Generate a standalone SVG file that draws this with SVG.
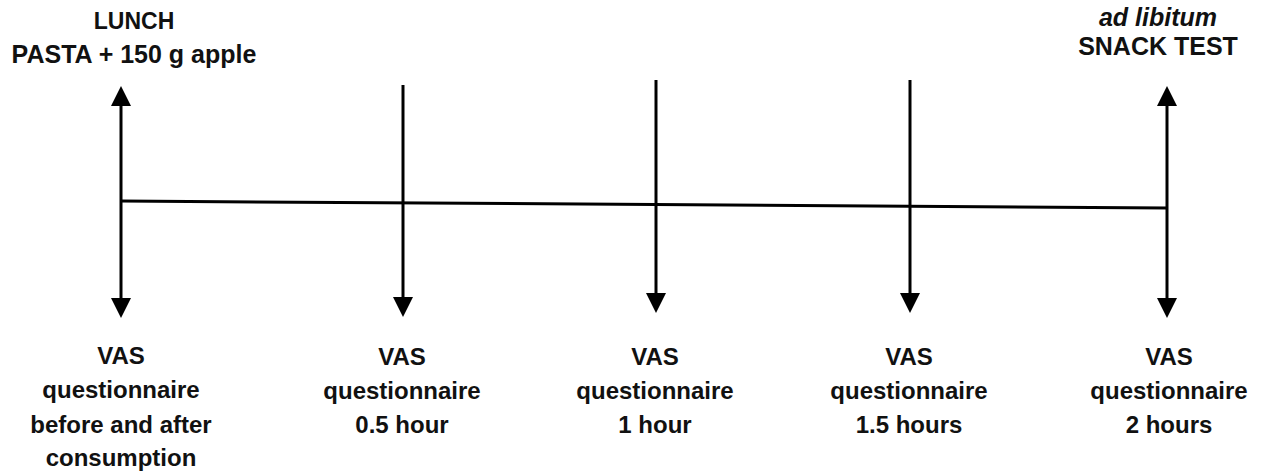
<svg xmlns="http://www.w3.org/2000/svg" width="1264" height="476" viewBox="0 0 1264 476">
<style>
text{font-family:"Liberation Sans",Arial,sans-serif;font-weight:bold;fill:#111;text-anchor:middle}
.lbl{font-size:24px}
.line{stroke:#000;stroke-width:3;fill:none}
</style>
<defs>
<marker id="ah" viewBox="0 0 20 20" markerWidth="20" markerHeight="20" refX="0" refY="10" orient="auto-start-reverse" markerUnits="userSpaceOnUse">
<path d="M0,0 L20,10 L0,20 z" fill="#000"/>
</marker>
</defs>
<g id="connectors">
<line class="line" x1="121" y1="201" x2="1167" y2="208"/>
<line class="line" x1="121" y1="106" x2="121" y2="298" marker-start="url(#ah)" marker-end="url(#ah)"/>
<line class="line" x1="403" y1="85" x2="403" y2="297" marker-end="url(#ah)"/>
<line class="line" x1="656" y1="80" x2="656" y2="293" marker-end="url(#ah)"/>
<line class="line" x1="910" y1="80" x2="910" y2="293" marker-end="url(#ah)"/>
<line class="line" x1="1167" y1="106" x2="1167" y2="298" marker-start="url(#ah)" marker-end="url(#ah)"/>
</g>
<g id="lunch">
<text x="134" y="29" style="font-size:23px">LUNCH</text>
<text x="134" y="63" style="font-size:25px">PASTA + 150 g apple</text>
</g>
<g id="snack">
<text x="1158" y="26" style="font-size:25px;font-style:italic">ad libitum</text>
<text x="1158" y="55" style="font-size:25px">SNACK TEST</text>
</g>
<g id="vas0">
<text class="lbl" x="121" y="364">VAS</text>
<text class="lbl" x="121" y="398">questionnaire</text>
<text class="lbl" x="121" y="433">before and after</text>
<text class="lbl" x="121" y="466">consumption</text>
</g>
<g id="vas1">
<text class="lbl" x="402" y="365">VAS</text>
<text class="lbl" x="402" y="399">questionnaire</text>
<text class="lbl" x="402" y="433">0.5 hour</text>
</g>
<g id="vas2">
<text class="lbl" x="655" y="365">VAS</text>
<text class="lbl" x="655" y="399">questionnaire</text>
<text class="lbl" x="655" y="433">1 hour</text>
</g>
<g id="vas3">
<text class="lbl" x="909" y="365">VAS</text>
<text class="lbl" x="909" y="399">questionnaire</text>
<text class="lbl" x="909" y="433">1.5 hours</text>
</g>
<g id="vas4">
<text class="lbl" x="1169" y="365">VAS</text>
<text class="lbl" x="1169" y="399">questionnaire</text>
<text class="lbl" x="1169" y="433">2 hours</text>
</g>
</svg>
